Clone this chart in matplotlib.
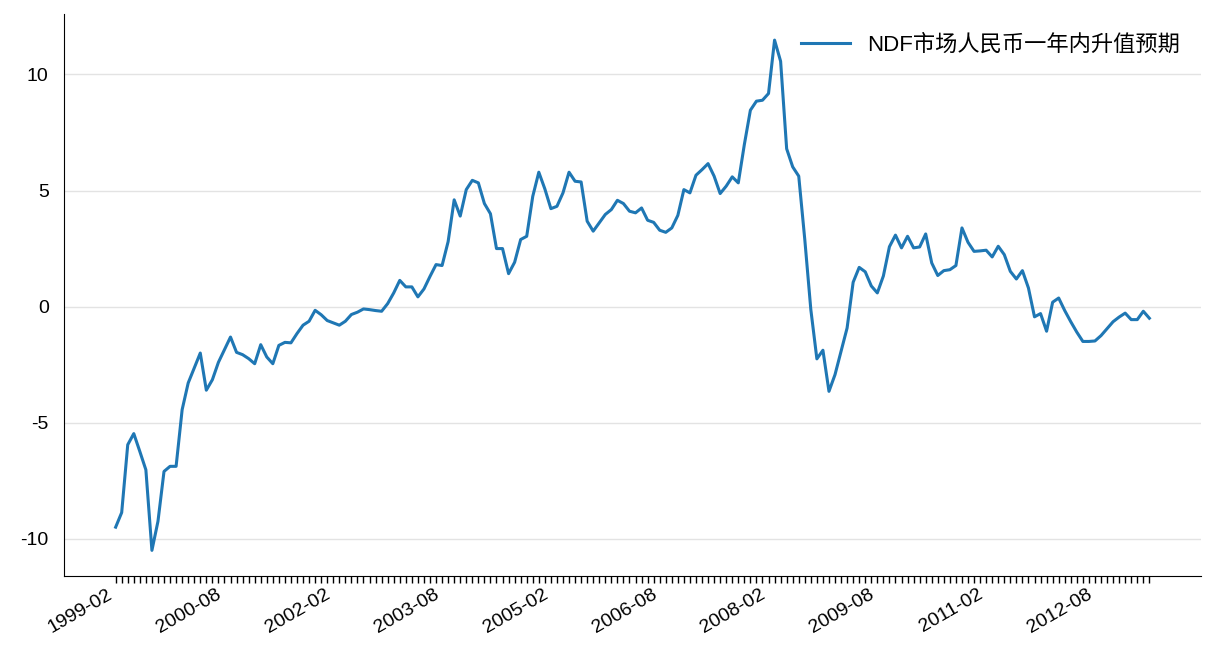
import pandas as pd
import matplotlib
matplotlib.use('Agg')
import matplotlib.pyplot as plt

plt.rcParams['font.family'] = ['Liberation Sans', 'Noto Sans CJK SC', 'DejaVu Sans']
plt.rcParams['axes.unicode_minus'] = False

# monthly expectation values, starting 1999-02
values = [-9.5, -8.87, -5.95, -5.47, -6.24, -7.03, -10.5, -9.25, -7.1, -6.88,
          -6.88, -4.44, -3.29, -2.64, -2.0, -3.6, -3.15, -2.4, -1.85, -1.31,
          -1.97, -2.07, -2.24, -2.46, -1.64, -2.17, -2.46, -1.67, -1.54, -1.56,
          -1.16, -0.8, -0.63, -0.16, -0.35, -0.6, -0.7, -0.8, -0.63, -0.34,
          -0.24, -0.1, -0.13, -0.17, -0.2, 0.13, 0.59, 1.13, 0.85, 0.85,
          0.42, 0.76, 1.3, 1.81, 1.77, 2.8, 4.6, 3.9, 5.04, 5.44,
          5.33, 4.44, 4.0, 2.5, 2.5, 1.42, 1.91, 2.89, 3.03, 4.75,
          5.79, 5.07, 4.22, 4.32, 4.9, 5.79, 5.4, 5.37, 3.68, 3.25,
          3.61, 3.97, 4.18, 4.58, 4.44, 4.11, 4.04, 4.25, 3.72, 3.63,
          3.29, 3.2, 3.39, 3.93, 5.04, 4.9, 5.66, 5.9, 6.16, 5.62,
          4.87, 5.19, 5.59, 5.33, 6.98, 8.46, 8.85, 8.89, 9.18, 11.48,
          10.57, 6.8, 6.02, 5.62, 2.89, -0.13, -2.25, -1.88, -3.65, -2.93,
          -1.93, -0.92, 1.05, 1.69, 1.5, 0.89, 0.59, 1.32, 2.58, 3.08,
          2.53, 3.03, 2.53, 2.57, 3.13, 1.88, 1.34, 1.55, 1.59, 1.77,
          3.39, 2.77, 2.38, 2.40, 2.43, 2.14, 2.6, 2.24, 1.52, 1.19,
          1.55, 0.8, -0.44, -0.3, -1.06, 0.19, 0.37, -0.17, -0.65, -1.1,
          -1.5, -1.5, -1.48, -1.25, -0.95, -0.65, -0.45, -0.28, -0.56, -0.56,
          -0.2, -0.5]
months = pd.date_range('1999-02-01', periods=len(values), freq='MS').strftime('%Y-%m').tolist()
series_name = 'NDF市场人民币一年内升值预期'
yticks = [-10, -5, 0, 5, 10]

fig, ax = plt.subplots(figsize=(12.16, 6.72), dpi=100)
fig.subplots_adjust(left=0.0526, right=0.9877, top=0.979, bottom=0.143)

x = list(range(len(values)))
ax.plot(x, values, color='#1f77b4', linewidth=2.2, label=series_name)

# every month gets a tick, only every 18th is labelled
ax.set_xticks(x)
ax.set_xticklabels([m if i % 18 == 0 else '' for i, m in enumerate(months)],
                   rotation=30, ha='right', fontsize=14)
ax.tick_params(axis='x', length=5, width=1, pad=2)

ax.set_yticks(yticks)
ax.set_yticklabels([str(v) for v in yticks], fontsize=14)
ax.tick_params(axis='y', length=0, pad=11)
ax.set_ylim(-11.6, 12.6)

ax.grid(axis='y', color='#e3e3e3', linewidth=1)
ax.set_axisbelow(True)
ax.spines['top'].set_visible(False)
ax.spines['right'].set_visible(False)

ax.legend(loc='upper right', frameon=False, fontsize=16, handlelength=2.2,
          bbox_to_anchor=(0.9995, 1.0))

plt.savefig('out.png', dpi=100)
